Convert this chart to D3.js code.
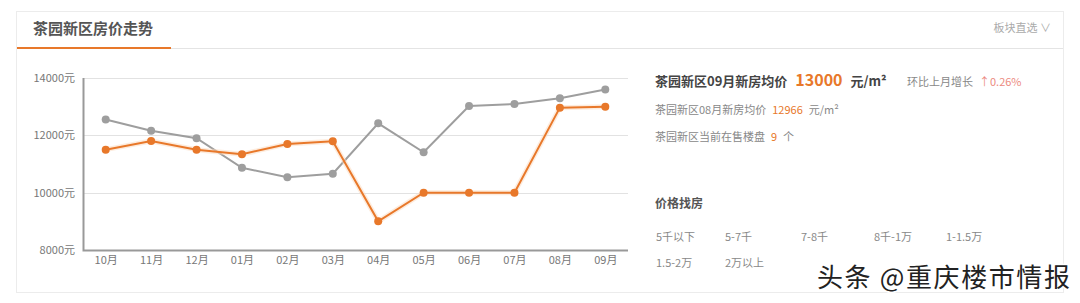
<!DOCTYPE html>
<html>
<head>
<meta charset="utf-8">
<script src="https://cdn.jsdelivr.net/npm/d3@7"></script>
<style>
    body { margin: 0; background: #fff; font-family: "Noto Sans CJK SC", "Noto Sans", sans-serif; }
    svg text { font-family: "Noto Sans CJK SC", "Noto Sans", sans-serif; }
</style>
</head>
<body>
<svg id="chart" width="1080" height="303"></svg>
<script>
// months on the x axis
var months = ["10月", "11月", "12月", "01月", "02月", "03月", "04月", "05月", "06月", "07月", "08月", "09月"];
// grey line (city / comparison)
var greySeries = [12550, 12160, 11900, 10870, 10540, 10660, 12420, 11410, 13020, 13090, 13290, 13600];
// orange line (茶园新区)
var orangeSeries = [11500, 11800, 11500, 11340, 11700, 11790, 9000, 10000, 10000, 10000, 12966, 13000];
var yTicks = [8000, 10000, 12000, 14000];
var priceRanges = ["5千以下", "5-7千", "7-8千", "8千-1万", "1-1.5万", "1.5-2万", "2万以上"];

var svg = d3.select("#chart");
var orange = "#e8782a";

// --------------------------------------
// card frame + header
// --------------------------------------
svg.append("rect")
    .attr("x", 16.5).attr("y", 11.5)
    .attr("width", 1047).attr("height", 281)
    .attr("fill", "#fff")
    .attr("stroke", "#ececec");

svg.append("line")
    .attr("x1", 17).attr("x2", 1063)
    .attr("y1", 48.5).attr("y2", 48.5)
    .attr("stroke", "#e4e4e4");

svg.append("line")
    .attr("x1", 17).attr("x2", 171)
    .attr("y1", 48).attr("y2", 48)
    .attr("stroke", orange).attr("stroke-width", 2);

svg.append("text")
    .attr("x", 33).attr("y", 34)
    .attr("font-size", 15).attr("font-weight", "bold")
    .attr("fill", "#555")
    .text("茶园新区房价走势");

svg.append("text")
    .attr("x", 1051).attr("y", 32)
    .attr("text-anchor", "end")
    .attr("font-size", 11).attr("fill", "#aaa")
    .text("板块直选 ∨");

// --------------------------------------
// line chart
// --------------------------------------
var x = d3.scalePoint().domain(months).range([83, 628]).padding(0.5);
var y = d3.scaleLinear().domain([8000, 14000]).range([250, 78]);

// gridlines
svg.append("g").selectAll("line")
    .data(yTicks.slice(1))
    .enter().append("line")
    .attr("x1", 83).attr("x2", 628)
    .attr("y1", function(d){ return Math.round(y(d)) + 0.5; })
    .attr("y2", function(d){ return Math.round(y(d)) + 0.5; })
    .attr("stroke", "#e2e2e2");

// y axis labels
var yAxis = d3.axisLeft(y).tickValues(yTicks).tickSize(0).tickPadding(8)
    .tickFormat(function(d){ return d + "元"; });
svg.append("g")
    .attr("transform", "translate(83,0)")
    .call(yAxis)
    .call(function(g){ g.select(".domain").remove(); })
    .selectAll("text")
    .attr("font-size", 11).attr("fill", "#777");

// x axis labels
var xAxis = d3.axisBottom(x).tickSize(0).tickPadding(6);
svg.append("g")
    .attr("transform", "translate(0,250)")
    .call(xAxis)
    .call(function(g){ g.select(".domain").remove(); })
    .selectAll("text")
    .attr("font-size", 11).attr("fill", "#777");

// axis lines
svg.append("path")
    .attr("d", "M83.5,78V250.5H628")
    .attr("fill", "none")
    .attr("stroke", "#999").attr("stroke-width", 2);

var line = d3.line()
    .x(function(d, i){ return x(months[i]); })
    .y(function(d){ return y(d); });

function drawSeries(data, color, glow) {
    var g = svg.append("g");
    if (glow) {
        g.append("path")
            .datum(data)
            .attr("d", line)
            .attr("fill", "none")
            .attr("stroke", "#fbd9bd")
            .attr("stroke-width", 5)
            .attr("stroke-linejoin", "round")
            .attr("opacity", 0.5);
    }
    g.append("path")
        .datum(data)
        .attr("d", line)
        .attr("fill", "none")
        .attr("stroke", color)
        .attr("stroke-width", 2);
    g.selectAll("circle")
        .data(data)
        .enter().append("circle")
        .attr("cx", function(d, i){ return x(months[i]); })
        .attr("cy", function(d){ return y(d); })
        .attr("r", 4)
        .attr("fill", color);
}

drawSeries(greySeries, "#9e9e9e", false);
drawSeries(orangeSeries, orange, true);

// --------------------------------------
// right info panel
// --------------------------------------
var info = svg.append("text").attr("x", 655).attr("y", 86);
info.append("tspan").attr("font-size", 13).attr("font-weight", "bold").attr("fill", "#444")
    .text("茶园新区09月新房均价");
info.append("tspan").attr("dx", 8).attr("font-size", 16).attr("font-weight", "bold").attr("fill", orange)
    .text(orangeSeries[11]);
info.append("tspan").attr("dx", 8).attr("font-size", 13).attr("font-weight", "bold").attr("fill", "#444")
    .text("元/m²");

var change = svg.append("text").attr("x", 907).attr("y", 86).attr("font-size", 11);
change.append("tspan").attr("fill", "#888").text("环比上月增长");
change.append("tspan").attr("dx", 6).attr("fill", "#ec8a80").text("↑0.26%");

var last = svg.append("text").attr("x", 655).attr("y", 114).attr("font-size", 11);
last.append("tspan").attr("fill", "#888").text("茶园新区08月新房均价");
last.append("tspan").attr("dx", 6).attr("fill", orange).text(orangeSeries[10]);
last.append("tspan").attr("dx", 6).attr("fill", "#888").text("元/m²");

var sale = svg.append("text").attr("x", 655).attr("y", 141).attr("font-size", 11);
sale.append("tspan").attr("fill", "#888").text("茶园新区当前在售楼盘");
sale.append("tspan").attr("dx", 6).attr("fill", orange).text("9");
sale.append("tspan").attr("dx", 6).attr("fill", "#888").text("个");

svg.append("text")
    .attr("x", 655).attr("y", 208)
    .attr("font-size", 12).attr("font-weight", "bold").attr("fill", "#555")
    .text("价格找房");

var rangeX = [656, 725, 801, 874, 946, 656, 725];
svg.append("g").selectAll("text")
    .data(priceRanges)
    .enter().append("text")
    .attr("x", function(d, i){ return rangeX[i]; })
    .attr("y", function(d, i){ return i < 5 ? 241 : 267; })
    .attr("font-size", 11).attr("fill", "#888")
    .text(function(d){ return d; });

// watermark
svg.append("text")
    .attr("x", 817).attr("y", 287)
    .attr("font-size", 26)
    .attr("textLength", 253)
    .attr("fill", "#222")
    .attr("stroke", "#fff").attr("stroke-width", 3)
    .attr("paint-order", "stroke")
    .text("头条 @重庆楼市情报");
</script>
</body>
</html>
